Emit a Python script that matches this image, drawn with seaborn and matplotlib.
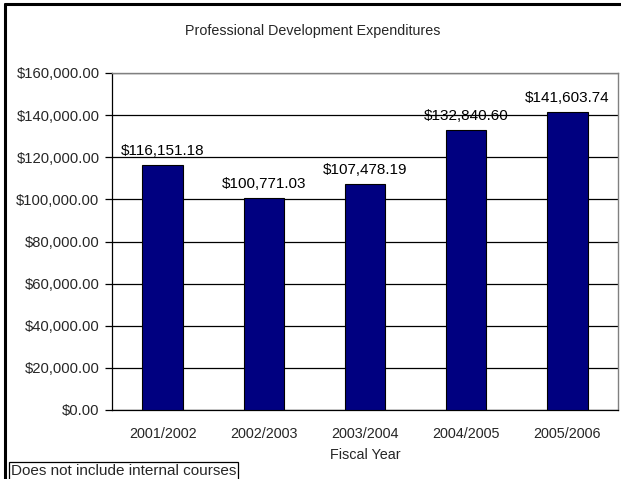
import matplotlib
matplotlib.use("Agg")
import matplotlib.pyplot as plt
from matplotlib.lines import Line2D
from matplotlib.ticker import FuncFormatter, MultipleLocator, FixedLocator
import seaborn as sns
import pandas as pd

fiscal_years = ["2001/2002", "2002/2003", "2003/2004", "2004/2005", "2005/2006"]
expenditures = [116151.18, 100771.03, 107478.19, 132840.60, 141603.74]

sns.set_style("white")
plt.rcParams["font.family"] = ["Liberation Sans", "DejaVu Sans"]
plt.rcParams["font.size"] = 10

df = pd.DataFrame({"Fiscal Year": fiscal_years, "Expenditure": expenditures})

W, H = 621, 479
fig = plt.figure(figsize=(W / 100, H / 100), dpi=100)
ax = fig.add_axes([112 / W, 1 - 410 / H, (618 - 112) / W, (410 - 73) / H])

sns.barplot(data=df, x="Fiscal Year", y="Expenditure", color="#000080",
            width=0.4, edgecolor="black", linewidth=0.8, saturation=1,
            ax=ax, zorder=3)

ax.set_ylim(0, 160000)
ax.set_xlim(-0.5, len(fiscal_years) - 0.5)
ax.yaxis.set_major_locator(MultipleLocator(20000))
ax.yaxis.set_major_formatter(FuncFormatter(lambda v, _: f"${v:,.2f}"))
ax.grid(axis="y", color="black", linewidth=0.9, zorder=0)
ax.set_axisbelow(True)

ax.xaxis.set_minor_locator(FixedLocator([i - 0.5 for i in range(len(fiscal_years) + 1)]))
ax.tick_params(axis="x", which="major", length=0, pad=12, labelsize=10.4)
ax.tick_params(axis="x", which="minor", length=5, width=0.9, color="black", direction="out")
ax.tick_params(axis="y", which="major", length=5, width=0.9, color="black",
               direction="out", left=True, pad=4, labelsize=10.6)

for side in ["top", "right"]:
    ax.spines[side].set_color("#808080")
    ax.spines[side].set_linewidth(1)
for side in ["left", "bottom"]:
    ax.spines[side].set_color("black")
    ax.spines[side].set_linewidth(0.9)

ax.set_ylabel("")
ax.set_xlabel("Fiscal Year", fontsize=10.4, labelpad=5)

for i, v in enumerate(expenditures):
    ax.annotate(f"${v:,.2f}", (i, v), xytext=(0, 5), textcoords="offset points",
                ha="center", va="bottom", fontsize=11, color="black")

fig.text(313 / W, 1 - 31 / H, "Professional Development Expenditures",
         ha="center", va="center", fontsize=10.3)

fig.text(11 / W, 1 - 471 / H, "Does not include internal courses",
         ha="left", va="center", fontsize=11,
         bbox=dict(boxstyle="square,pad=0.12", facecolor="white",
                   edgecolor="black", linewidth=0.9))

# outer chart frame (left and top edges)
fig.add_artist(Line2D([5 / W, 5 / W], [0, 1 - 4 / H], transform=fig.transFigure,
                      color="black", linewidth=2.2))
fig.add_artist(Line2D([5 / W, 1], [1 - 4 / H, 1 - 4 / H], transform=fig.transFigure,
                      color="black", linewidth=2.2))

fig.savefig("out.png", dpi=100)
